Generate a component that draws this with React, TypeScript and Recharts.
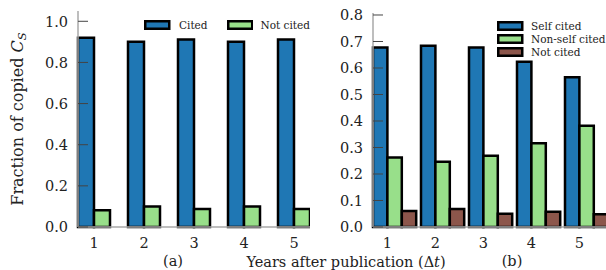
import React from 'react';
import { BarChart, Bar, XAxis, YAxis } from 'recharts';

const years = [1, 2, 3, 4, 5];
const citedA = [0.92, 0.9, 0.912, 0.9, 0.912];
const notCitedA = [0.081, 0.1, 0.087, 0.1, 0.087];
const selfB = [0.677, 0.684, 0.677, 0.624, 0.565];
const nonSelfB = [0.262, 0.246, 0.269, 0.316, 0.382];
const notCitedB = [0.06, 0.068, 0.05, 0.058, 0.048];
const ticksA = [0, 0.2, 0.4, 0.6, 0.8, 1.0];
const ticksB = [0, 0.1, 0.2, 0.3, 0.4, 0.5, 0.6, 0.7, 0.8];

const seriesA = [
  { key: 'cited', name: 'Cited', color: '#1f77b4' },
  { key: 'notCited', name: 'Not cited', color: '#98df8a' },
];
const seriesB = [
  { key: 'self', name: 'Self cited', color: '#1f77b4' },
  { key: 'nonSelf', name: 'Non-self cited', color: '#98df8a' },
  { key: 'notCited', name: 'Not cited', color: '#8c564b' },
];

const dataA = years.map((y, i) => ({ year: y, cited: citedA[i], notCited: notCitedA[i] }));
const dataB = years.map((y, i) => ({ year: y, self: selfB[i], nonSelf: nonSelfB[i], notCited: notCitedB[i] }));

const FONT = '"DejaVu Serif", serif';
const SPINE = '#a8a8a8';
const TEXT = '#222';

const makeYTick = (margin: number) => (props: any) => {
  const { x, y, payload } = props;
  return (
    <g>
      <line x1={x + margin} x2={x + margin + 10} y1={y} y2={y} stroke="#444" strokeWidth={1} />
      <text x={x} y={y} dy="0.36em" textAnchor="end" fontFamily={FONT} fontSize={14.5} fill={TEXT}>
        {Number(payload.value).toFixed(1)}
      </text>
    </g>
  );
};

const makeXTick = (shift: number) => (props: any) => {
  const { x, y, payload } = props;
  return (
    <text x={x + shift} y={y + 20.5} textAnchor="middle" fontFamily={FONT} fontSize={14.5} fill={TEXT}>
      {payload.value}
    </text>
  );
};

const Patch = ({ color }: { color: string }) => (
  <svg width={27} height={10} style={{ display: 'block' }}>
    <rect x={1.25} y={1.25} width={24} height={7.5} fill={color} stroke="#000" strokeWidth={2.5} />
  </svg>
);

const legendText: React.CSSProperties = { fontFamily: FONT, fontSize: 10.5, color: TEXT, lineHeight: '10px', whiteSpace: 'nowrap' };

const BAR_A = 16;
const BAR_B = 14.4;

export default function App() {
  return (
    <div style={{ position: 'absolute', left: 0, top: 0, width: 606, height: 270, overflow: 'hidden', background: '#fff' }}>
      <div style={{ position: 'absolute', left: 0, top: 0 }}>
        <BarChart width={310} height={257} data={dataA} margin={{ top: 11, right: 0, bottom: 0, left: 0 }} barGap={0}>
          <XAxis dataKey="year" padding={{ left: -9, right: -9 }} axisLine={{ stroke: SPINE, strokeWidth: 1.5 }} tickLine={false} tickSize={0} tickMargin={0} height={30} tick={makeXTick(0)} interval={0} />
          <YAxis width={78} domain={[0, 1.05]} ticks={ticksA} axisLine={{ stroke: SPINE, strokeWidth: 1.5 }} tickLine={false} tickSize={0} tickMargin={10} tick={makeYTick(10)} interval={0} />
          {seriesA.map((s) => (
            <Bar key={s.key} dataKey={s.key} name={s.name} fill={s.color} stroke="#000" strokeWidth={2.5} barSize={BAR_A} isAnimationActive={false} />
          ))}
        </BarChart>
      </div>
      <div style={{ position: 'absolute', left: 300, top: 0 }}>
        <BarChart width={308} height={257} data={dataB} margin={{ top: 13, right: 0, bottom: 0, left: 0 }} barGap={0}>
          <XAxis dataKey="year" padding={{ left: -2, right: -3 }} axisLine={{ stroke: SPINE, strokeWidth: 1.5 }} tickLine={false} tickSize={0} tickMargin={0} height={30} tick={makeXTick(-7.6)} interval={0} />
          <YAxis width={73} domain={[0, 0.8075]} ticks={ticksB} axisLine={{ stroke: SPINE, strokeWidth: 1.5 }} tickLine={false} tickSize={0} tickMargin={10} tick={makeYTick(10)} interval={0} />
          {seriesB.map((s) => (
            <Bar key={s.key} dataKey={s.key} name={s.name} fill={s.color} stroke="#000" strokeWidth={2.5} barSize={BAR_B} isAnimationActive={false} />
          ))}
        </BarChart>
      </div>

      {/* legend A */}
      <div style={{ position: 'absolute', left: 144, top: 20, display: 'flex' }}>
        {seriesA.map((s) => (
          <div key={s.key} style={{ display: 'flex', alignItems: 'center', width: 83 }}>
            <Patch color={s.color} />
            <span style={{ ...legendText, marginLeft: 8 }}>{s.name}</span>
          </div>
        ))}
      </div>
      {/* legend B */}
      <div style={{ position: 'absolute', left: 497, top: 20 }}>
        {seriesB.map((s) => (
          <div key={s.key} style={{ display: 'flex', alignItems: 'center', height: 12.8 }}>
            <Patch color={s.color} />
            <span style={{ ...legendText, marginLeft: 7 }}>{s.name}</span>
          </div>
        ))}
      </div>

      <svg width={606} height={270} style={{ position: 'absolute', left: 0, top: 0, pointerEvents: 'none' }}>
        <text x={346} y={267} textAnchor="middle" fontFamily={FONT} fontSize={14.5} fill={TEXT}>
          Years after publication (<tspan>Δ</tspan><tspan fontStyle="italic">t</tspan>)
        </text>
        <text x={173} y={266} textAnchor="middle" fontFamily={FONT} fontSize={14.5} fill={TEXT}>(a)</text>
        <text x={512} y={266} textAnchor="middle" fontFamily={FONT} fontSize={14.5} fill={TEXT}>(b)</text>
        <text transform="translate(23,119) rotate(-90)" textAnchor="middle" fontFamily={FONT} fontSize={16} fill={TEXT}>
          Fraction of copied <tspan fontStyle="italic">C</tspan>
          <tspan fontStyle="italic" fontSize={11.5} dy={3}>S</tspan>
        </text>
      </svg>
    </div>
  );
}
